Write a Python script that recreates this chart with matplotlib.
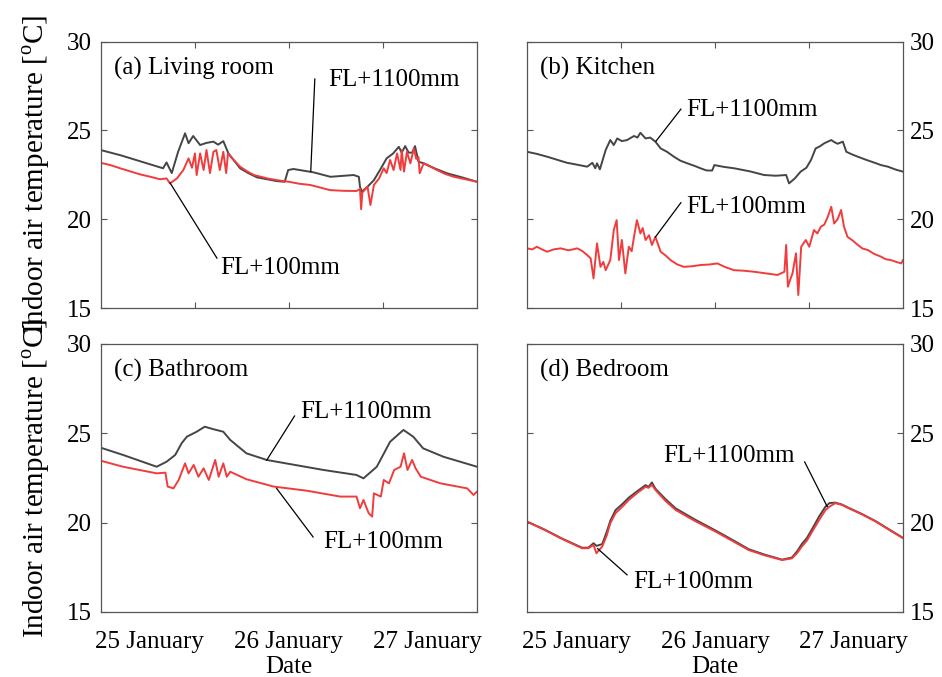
import matplotlib
matplotlib.use('Agg')
import matplotlib.pyplot as plt

plt.rcParams['font.family'] = ['Liberation Serif', 'DejaVu Serif']
plt.rcParams['mathtext.fontset'] = 'custom'
plt.rcParams['mathtext.rm'] = 'Liberation Serif'
plt.rcParams['font.size'] = 18

# hours from the start of the record
span = 65.0
day_pos = [8.5, 32.5, 56.5]
day_labels = ['25 January', '26 January', '27 January']

# (a) living room
a_t1100 = [0, 3.5, 7, 10.8, 11.4, 12.3, 13.4, 14.6, 15.2, 16.0, 17.2, 18.3, 19.5, 20.3, 21.2,
           22.1, 24.1, 25.5, 27.0, 30.4, 31.8, 32.4, 33.3, 36.8, 39.7, 43.7, 44.6, 44.8, 45.1,
           46.0, 47.2, 48.3, 49.4, 50.5, 51.5, 52.0, 52.6, 53.2, 53.8, 54.3, 54.9, 55.8, 57.8,
           59.8, 62.5, 65]
a_v1100 = [23.9, 23.6, 23.25, 22.87, 23.2, 22.6, 23.8, 24.84, 24.28, 24.69, 24.18, 24.3, 24.37,
           24.2, 24.4, 23.7, 22.87, 22.6, 22.36, 22.15, 22.11, 22.77, 22.83, 22.64, 22.39, 22.49,
           22.39, 21.83, 21.55, 21.8, 22.2, 22.8, 23.43, 23.7, 24.08, 23.75, 24.12, 23.75, 23.75,
           24.12, 23.24, 23.15, 22.85, 22.59, 22.35, 22.11]
a_t100 = [0, 1.7, 3.4, 5.1, 6.8, 8.5, 10.3, 11.4, 12.0, 13.2, 14.3, 15.2, 15.8, 16.3, 16.6, 17.2,
          17.8, 18.3, 18.9, 19.5, 20.0, 20.6, 21.2, 21.7, 22.0, 23.0, 24.1, 25.3, 26.5, 28.8,
          30.5, 32.5, 34.3, 36.2, 38.0, 39.6, 42.0, 44.2, 44.8, 45.0, 45.2, 46.1, 46.6, 47.2,
          48.1, 48.9, 49.4, 50.0, 50.6, 51.2, 51.8, 52.0, 52.4, 52.9, 53.5, 54.1, 54.5, 54.9,
          55.1, 55.8, 57.0, 58.1, 59.5, 61.0, 63.0, 65]
a_v100 = [23.18, 23.05, 22.87, 22.7, 22.53, 22.4, 22.25, 22.3, 22.02, 22.3, 22.77, 23.43, 22.9,
          23.71, 22.49, 23.71, 22.77, 23.9, 22.6, 23.8, 23.9, 22.77, 23.8, 22.6, 23.7, 23.34,
          22.96, 22.7, 22.49, 22.3, 22.2, 22.11, 22.0, 21.93, 21.78, 21.64, 21.6, 21.59, 21.7,
          20.56, 21.5, 21.83, 20.8, 21.93, 22.3, 22.87, 22.6, 23.34, 22.77, 23.71, 22.77, 23.9,
          22.68, 23.8, 23.15, 23.99, 23.4, 23.5, 22.59, 23.15, 22.95, 22.77, 22.55, 22.39,
          22.25, 22.11]

# (b) kitchen
b_t1100 = [0, 1.7, 3.5, 5.2, 6.9, 8.7, 10.4, 11.3, 11.8, 12.1, 12.6, 13.6, 14.4, 15.0, 15.6,
           16.4, 17.3, 18.5, 19.1, 19.6, 20.5, 21.3, 22.2, 23.1, 24.2, 25.4, 26.5, 27.7, 29.0,
           30.0, 31.0, 32.0, 32.4, 34.0, 35.8, 38.5, 41.0, 43.0, 44.8, 45.3, 46.3, 47.3, 48.3,
           49.1, 49.9, 50.6, 51.4, 52.6, 53.1, 53.7, 54.6, 55.2, 56.2, 57.2, 58.6, 60.1, 61.2,
           62.4, 63.7, 65]
b_v1100 = [23.8, 23.68, 23.52, 23.35, 23.18, 23.07, 22.96, 23.18, 22.87, 23.15, 22.81, 23.9,
           24.46, 24.18, 24.55, 24.4, 24.46, 24.69, 24.6, 24.87, 24.55, 24.6, 24.37, 23.99, 23.8,
           23.52, 23.3, 23.15, 23.0, 22.87, 22.75, 22.74, 23.05, 22.95, 22.87, 22.7, 22.49,
           22.45, 22.49, 22.02, 22.3, 22.68, 22.9, 23.34, 23.99, 24.1, 24.28, 24.46, 24.35,
           24.25, 24.37, 23.8, 23.65, 23.52, 23.35, 23.18, 23.05, 22.96, 22.8, 22.68]
b_t100 = [0, 0.9, 1.7, 2.6, 3.5, 4.6, 5.8, 7.2, 8.7, 9.6, 10.4, 11.0, 11.5, 12.1, 12.7, 13.2,
          13.6, 14.4, 15.0, 15.5, 15.9, 16.4, 17.0, 17.6, 18.1, 18.5, 19.0, 19.6, 20.0, 20.5,
          21.1, 21.6, 22.2, 23.1, 24.0, 24.8, 26.0, 27.1, 28.5, 30.0, 31.5, 32.9, 34.3, 35.8,
          37.5, 39.3, 41.3, 43.3, 44.5, 44.8, 45.1, 45.5, 45.9, 46.5, 46.9, 47.4, 48.2, 48.8,
          49.6, 50.2, 50.8, 51.4, 52.0, 52.6, 53.1, 53.7, 54.3, 54.8, 55.4, 56.3, 57.2, 58.0,
          58.9, 60.0, 61.2, 62.0, 62.9, 63.8, 64.7, 65]
b_v100 = [18.36, 18.3, 18.45, 18.3, 18.17, 18.3, 18.36, 18.25, 18.36, 18.2, 17.98, 17.8, 16.67,
          18.64, 17.32, 17.6, 17.13, 17.7, 19.39, 19.95, 17.7, 18.83, 16.95, 18.45, 18.2, 19.01,
          19.95, 19.2, 19.5, 18.83, 19.1, 18.55, 19.01, 18.17, 17.95, 17.7, 17.45, 17.32, 17.35,
          17.42, 17.45, 17.51, 17.3, 17.13, 17.1, 17.04, 16.95, 16.86, 17.04, 18.55, 16.2, 16.6,
          16.95, 18.08, 15.73, 18.45, 18.83, 18.45, 19.39, 19.2, 19.58, 19.7, 20.14, 20.7, 19.76,
          20.0, 20.52, 19.58, 19.01, 18.8, 18.55, 18.35, 18.27, 18.05, 17.89, 17.75, 17.7, 17.6,
          17.51, 17.7]

# (c) bathroom
c_t1100 = [0, 3.9, 9.7, 11.4, 12.9, 14.0, 14.9, 16.6, 18.0, 19.5, 21.2, 22.4, 25.2, 28.7, 32.7,
           38.5, 44.2, 45.4, 47.7, 50.0, 52.3, 54.0, 55.7, 59.2, 65]
c_v1100 = [24.2, 23.79, 23.13, 23.41, 23.79, 24.44, 24.81, 25.09, 25.37, 25.23, 25.09, 24.63,
           23.88, 23.51, 23.28, 22.95, 22.67, 22.48, 23.13, 24.53, 25.19, 24.81, 24.16, 23.69,
           23.13]
c_t100 = [0, 3.9, 9.7, 11.2, 11.6, 12.6, 13.5, 14.6, 15.2, 16.1, 16.9, 17.8, 18.7, 19.8, 20.4,
          21.2, 21.8, 22.4, 25.2, 29.9, 35.6, 41.4, 44.2, 44.8, 45.4, 46.3, 46.9, 47.2, 48.4,
          48.9, 49.8, 50.7, 51.8, 52.4, 53.0, 53.8, 54.4, 55.3, 58.7, 63.3, 64.4, 65]
c_v100 = [23.47, 23.13, 22.76, 22.8, 22.02, 21.92, 22.39, 23.32, 22.76, 23.23, 22.57, 23.04,
          22.39, 23.51, 22.57, 23.32, 22.57, 22.85, 22.43, 22.02, 21.79, 21.46, 21.46, 20.81,
          21.27, 20.53, 20.34, 21.64, 21.46, 22.39, 22.2, 22.95, 23.13, 23.88, 22.95, 23.51,
          23.04, 22.57, 22.2, 21.92, 21.55, 21.74]

# (d) bedroom
d_t = [0, 3, 6, 9.5, 10.6, 11.5, 12.0, 13.0, 13.8, 14.4, 15.3, 16.5, 17.6, 19.0, 20.5, 21.0,
       21.6, 22.2, 24.0, 25.7, 29.0, 32.6, 35.5, 38.3, 41.0, 44.1, 45.8, 46.7, 47.5, 48.4,
       49.3, 50.5, 51.6, 52.3, 53.3, 54.4, 55.6, 58.0, 60.3, 62.6, 65]
d_v1100 = [20.06, 19.62, 19.12, 18.6, 18.6, 18.85, 18.7, 18.8, 19.5, 20.1, 20.7, 21.05, 21.4,
           21.75, 22.1, 22.0, 22.25, 21.9, 21.3, 20.8, 20.18, 19.56, 19.04, 18.52, 18.22, 17.93,
           18.05, 18.4, 18.8, 19.15, 19.65, 20.35, 20.9, 21.1, 21.12, 21.02, 20.83, 20.47,
           20.08, 19.62, 19.15]
d_v100 = [20.06, 19.6, 19.1, 18.57, 18.57, 18.75, 18.29, 18.66, 19.3, 19.97, 20.53, 20.9, 21.27,
          21.65, 22.01, 21.95, 22.11, 21.83, 21.2, 20.71, 20.1, 19.5, 18.98, 18.47, 18.18, 17.91,
          18.0, 18.3, 18.66, 19.0, 19.5, 20.15, 20.71, 20.9, 21.09, 21.0, 20.81, 20.45, 20.06,
          19.6, 19.13]

titles = ['(a) Living room', '(b) Kitchen', '(c) Bathroom', '(d) Bedroom']

# leader lines: (curve point, line end, text anchor) in data units
notes_1100 = [((36.3, 22.7), (37.0, 27.9), (39.4, 27.85)),
              ((22.3, 24.4), (26.6, 26.2), (27.6, 26.15)),
              ((28.7, 23.5), (33.5, 25.97), (34.4, 26.2)),
              ((51.9, 20.9), (48.0, 23.4), (23.6, 23.73))]
notes_100 = [((12.0, 22.05), (20.1, 17.81), (20.6, 17.25)),
             ((22.2, 19.0), (26.6, 20.93), (27.6, 20.7)),
             ((30.4, 21.92), (36.7, 19.2), (38.5, 18.94)),
             ((12.2, 18.55), (17.3, 17.08), (18.4, 16.7))]

series = [(a_t1100, a_v1100, a_t100, a_v100),
          (b_t1100, b_v1100, b_t100, b_v100),
          (c_t1100, c_v1100, c_t100, c_v100),
          (d_t, d_v1100, d_t, d_v100)]

W, H = 942, 677
fig = plt.figure(figsize=(W / 100, H / 100), dpi=100)

# axes boxes in pixels: left, top, right, bottom
boxes = [(100.5, 41.7, 477, 308), (527, 41.7, 903, 308),
         (100.5, 344, 477, 612), (527, 344, 903, 612)]

grey = '#454545'
red = '#f03c3c'
ylab = r'Indoor air temperature [$^{\rm o}$C]'

for i, (l, t, r, b) in enumerate(boxes):
    ax = fig.add_axes([l / W, 1 - b / H, (r - l) / W, (b - t) / H])
    t1, v1, t2, v2 = series[i]
    ax.plot(t1, v1, color=grey, lw=1.4)
    ax.plot(t2, v2, color=red, lw=1.4)
    ax.set_xlim(0, span)
    ax.set_ylim(15, 30)
    ax.set_yticks([15, 20, 25, 30])
    for s in ax.spines.values():
        s.set_color('#555555')
        s.set_linewidth(0.9)
    right = i % 2 == 1
    ax.tick_params(axis='y', direction='in', length=4, color='#555555', left=True, right=True,
                   labelleft=not right, labelright=right, pad=5 if right else 6)
    if i < 2:
        ax.set_xticks([span / 4, span / 2, 3 * span / 4])
        ax.tick_params(axis='x', direction='in', length=4, color='#555555', top=True,
                       labelbottom=False)
    else:
        ax.set_xticks(day_pos, day_labels)
        ax.set_xticks([span / 2], minor=True)
        ax.tick_params(axis='x', which='major', length=0, pad=14)
        ax.tick_params(axis='x', which='minor', direction='in', length=4, color='#555555',
                       top=True)
        ax.set_xlabel('Date', labelpad=2)
    ax.text(0.035, 0.9, titles[i], transform=ax.transAxes, ha='left', va='center')
    for (p, q, txt), label in ((notes_1100[i], 'FL+1100mm'), (notes_100[i], 'FL+100mm')):
        ax.plot([p[0], q[0]], [p[1], q[1]], color='black', lw=0.9)
        ax.text(txt[0], txt[1], label, ha='left', va='center')
    if i % 2 == 0:
        fig.text(36 / W, 1 - (t + b) / 2 / H, ylab, rotation=90, ha='center', va='center',
                 fontsize=21)

fig.savefig('out.png', dpi=100)
